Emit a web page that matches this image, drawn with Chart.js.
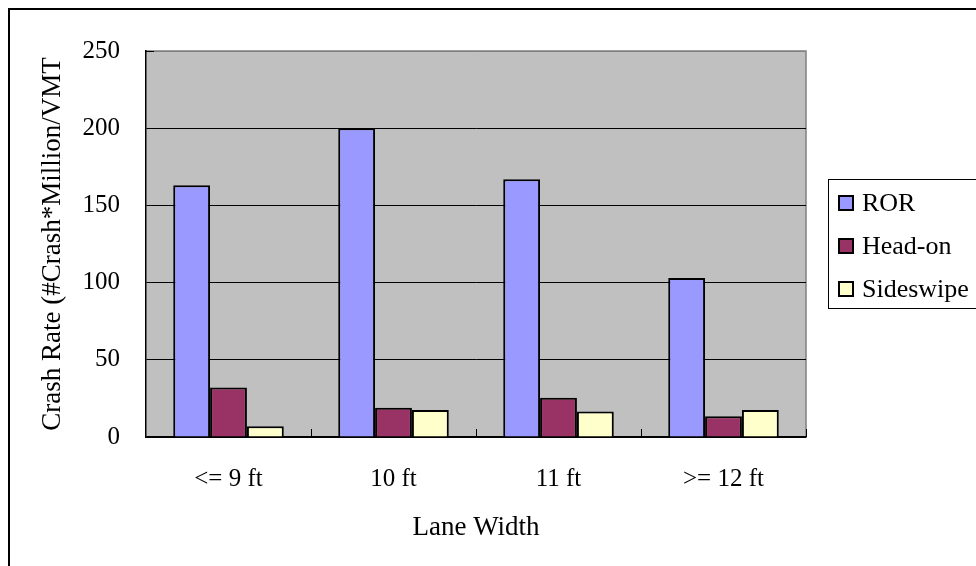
<!DOCTYPE html>
<html>
<head>
<meta charset="utf-8">
<script src="https://cdn.jsdelivr.net/npm/chart.js@4/dist/chart.umd.min.js"></script>
<style>
  html, body { margin: 0; padding: 0; background: #fff; }
  #wrap { width: 976px; height: 566px; position: relative; }
</style>
</head>
<body>
<div id="wrap"><canvas id="myChart" width="976" height="566"></canvas></div>
<script>
// datos
const categories = ["<= 9 ft", "10 ft", "11 ft", ">= 12 ft"];
const ror = [163, 200, 167, 103];
const headOn = [32, 19, 25.5, 13.5];
const sideswipe = [7, 17.5, 16.5, 17.5];
const yTicks = [0, 50, 100, 150, 200, 250];

const FONT = "'Liberation Serif', 'Times New Roman', serif";

// marco exterior, fondo gris, ticks interiores del eje x, leyenda
const decor = {
  id: "decor",
  beforeDraw(chart) {
    const { ctx, chartArea: a } = chart;
    ctx.save();
    ctx.fillStyle = "#fff";
    ctx.fillRect(0, 0, chart.width, chart.height);
    ctx.fillStyle = "#C0C0C0";
    ctx.fillRect(a.left, a.top, a.right - a.left, a.bottom - a.top);
    ctx.strokeStyle = "#808080";
    ctx.lineWidth = 1.5;
    ctx.beginPath();
    ctx.moveTo(a.left, a.top);
    ctx.lineTo(a.right, a.top);
    ctx.lineTo(a.right, a.bottom);
    ctx.stroke();
    ctx.restore();
  },
  afterDraw(chart) {
    const { ctx, chartArea: a } = chart;
    ctx.save();
    // marco
    ctx.strokeStyle = "#000";
    ctx.lineWidth = 2;
    ctx.strokeRect(9, 9, 1200, 1200);
    // ticks del eje x hacia dentro
    ctx.lineWidth = 1;
    const step = (a.right - a.left) / categories.length;
    for (let i = 1; i <= categories.length; i++) {
      const px = Math.round(a.left + step * i) + 0.5;
      ctx.beginPath();
      ctx.moveTo(px, a.bottom);
      ctx.lineTo(px, a.bottom - 8);
      ctx.stroke();
    }
    // tick superior del eje y
    ctx.beginPath();
    ctx.moveTo(a.left, a.top + 0.5);
    ctx.lineTo(a.left + 8, a.top + 0.5);
    ctx.stroke();
    // leyenda
    const lx = 828, ly = 179;
    ctx.fillStyle = "#fff";
    ctx.fillRect(lx, ly, 200, 130);
    ctx.strokeStyle = "#000";
    ctx.lineWidth = 1;
    ctx.strokeRect(lx + 0.5, ly + 0.5, 200, 129);
    ctx.font = "26px " + FONT;
    ctx.textBaseline = "middle";
    chart.data.datasets.forEach((ds, i) => {
      const cy = 203 + i * 43;
      ctx.fillStyle = ds.backgroundColor;
      ctx.fillRect(839, cy - 7, 14, 14);
      ctx.lineWidth = 2;
      ctx.strokeStyle = "#000";
      ctx.strokeRect(839, cy - 7, 14, 14);
      ctx.fillStyle = "#000";
      ctx.fillText(ds.label, 862, cy + 1);
    });
    ctx.restore();
  }
};

new Chart(document.getElementById("myChart"), {
  type: "bar",
  data: {
    labels: categories,
    datasets: [
      { label: "ROR", data: ror, backgroundColor: "#9999FF" },
      { label: "Head-on", data: headOn, backgroundColor: "#993366" },
      { label: "Sideswipe", data: sideswipe, backgroundColor: "#FFFFCC" },
    ],
  },
  options: {
    responsive: false,
    animation: false,
    layout: { padding: { left: 0, top: 51, right: 170, bottom: 22 } },
    datasets: {
      bar: {
        borderColor: "#000",
        borderWidth: 2,
        categoryPercentage: 0.67,
        barPercentage: 1.0,
      },
    },
    plugins: {
      legend: { display: false },
      tooltip: { enabled: false },
    },
    scales: {
      x: {
        afterFit(scale) { scale.height = 566 - 437 - 22; },
        grid: { display: false },
        border: { display: true, color: "#000", width: 1.5 },
        ticks: { color: "#000", font: { family: FONT, size: 25 }, padding: 19 },
        title: {
          display: true,
          text: "Lane Width",
          color: "#000",
          font: { family: FONT, size: 27 },
          padding: { top: 10, bottom: 0 },
        },
      },
      y: {
        min: 0,
        max: 250,
        afterBuildTicks(scale) {
          scale.ticks = yTicks.map(v => ({ value: v }));
        },
        afterFit(scale) { scale.width = 146; },
        grid: {
          color: ctx => (ctx.tick && ctx.tick.value === 250 ? "#808080" : "#000"),
          lineWidth: 1,
          drawTicks: false,
        },
        border: { display: true, color: "#000", width: 1.5 },
        ticks: { color: "#000", font: { family: FONT, size: 25 }, padding: 26 },
        title: {
          display: true,
          text: "Crash Rate (#Crash*Million/VMT",
          color: "#000",
          font: { family: FONT, size: 27 },
          padding: { top: 37, bottom: 0 },
        },
      },
    },
  },
  plugins: [decor],
});
</script>
</body>
</html>
